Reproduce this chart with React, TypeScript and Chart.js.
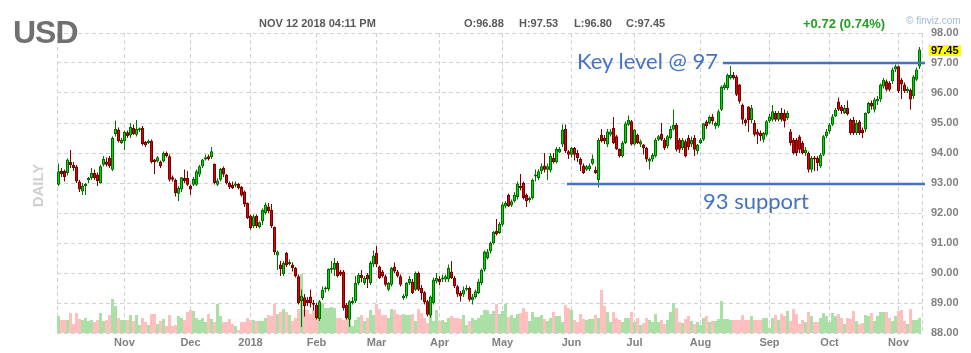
import { useEffect, useRef } from 'react';
import { Chart, registerables } from 'chart.js';

Chart.register(...registerables);

// ---- Daily candles (DXY), Oct 2017 – Nov 12 2018 ----
const OPEN = [
  92.94, 93.40, 93.40, 93.33, 93.70, 93.60, 93.55, 93.05, 92.72, 92.90, 93.09, 93.17,
  93.33, 93.28, 93.00, 93.61, 93.72, 93.83, 93.44, 94.63, 94.78, 94.33, 94.39, 94.69,
  94.58, 94.83, 94.61, 94.76, 94.83, 94.37, 94.33, 94.41, 93.78, 93.72, 93.72, 93.72,
  94.00, 93.89, 93.19, 93.11, 92.64, 92.78, 93.17, 93.17, 92.90, 92.94, 92.94, 93.28,
  93.56, 93.78, 93.89, 93.87, 93.64, 92.94, 93.11, 93.50, 93.28, 93.00, 92.94, 92.91,
  92.97, 92.87, 92.72, 92.33, 91.91, 91.56, 91.91, 91.53, 91.72, 92.00, 92.22, 92.11,
  91.53, 90.58, 90.28, 89.97, 90.67, 90.30, 90.28, 90.17, 89.89, 89.07, 89.19, 89.10,
  89.22, 89.00, 88.94, 88.47, 89.17, 89.45, 89.47, 90.11, 90.11, 90.33, 90.05, 90.05,
  88.94, 88.44, 89.00, 89.06, 89.67, 89.94, 89.67, 89.94, 89.67, 90.28, 90.67, 90.22,
  90.05, 89.89, 89.44, 89.61, 90.22, 90.05, 89.89, 89.17, 89.22, 89.67, 89.72, 89.44,
  90.00, 89.50, 89.36, 89.06, 88.58, 89.00, 89.72, 89.80, 89.78, 89.78, 89.78, 90.05,
  89.83, 89.56, 89.33, 89.28, 89.44, 89.50, 89.09, 89.20, 89.33, 89.67, 90.11, 90.50,
  90.72, 91.00, 91.41, 91.33, 91.61, 92.22, 92.61, 92.25, 92.39, 92.53, 92.91, 93.00,
  92.61, 92.43, 92.50, 93.22, 93.17, 93.39, 93.58, 93.44, 93.42, 93.83, 93.69, 94.02,
  94.28, 94.80, 94.06, 93.94, 94.17, 94.00, 93.80, 93.58, 93.44, 93.47, 93.64, 93.44,
  93.09, 94.61, 94.50, 94.28, 94.61, 94.83, 94.56, 94.13, 93.89, 94.33, 94.94, 95.06,
  94.28, 94.61, 94.28, 94.28, 94.17, 93.72, 93.78, 93.89, 94.44, 94.64, 94.44, 94.22,
  94.50, 94.78, 94.94, 94.44, 94.17, 94.39, 94.50, 94.28, 94.50, 94.06, 94.33, 94.44,
  95.05, 95.00, 95.22, 94.89, 94.91, 95.44, 96.17, 96.17, 96.50, 96.61, 96.55, 96.28,
  95.61, 95.11, 95.55, 95.10, 95.00, 94.72, 94.67, 94.44, 94.61, 95.06, 95.11, 95.33,
  95.11, 95.33, 95.33, 95.17, 94.72, 94.44, 94.44, 94.55, 94.33, 94.00, 94.00, 93.44,
  93.83, 93.83, 93.56, 93.94, 94.56, 94.72, 94.94, 95.22, 95.72, 95.55, 95.33, 95.50,
  95.10, 95.10, 94.67, 95.05, 94.78, 94.78, 95.33, 95.67, 95.44, 95.72, 95.78, 96.22,
  96.39, 96.33, 96.39, 96.78, 96.89, 96.44, 96.28, 96.06, 96.10, 95.89, 96.44, 96.88,
];

const HIGH = [
  93.65, 93.50, 93.45, 93.82, 94.10, 93.70, 93.60, 93.10, 93.00, 93.00, 93.20, 93.50,
  93.45, 93.35, 93.60, 93.90, 93.85, 93.90, 94.55, 95.08, 94.85, 94.50, 94.75, 94.75,
  95.00, 94.95, 95.10, 94.85, 94.90, 94.40, 94.45, 94.45, 93.80, 93.90, 93.75, 94.05,
  94.05, 93.95, 93.25, 93.15, 92.90, 93.20, 93.45, 93.40, 92.95, 93.20, 93.45, 93.60,
  93.80, 93.95, 93.95, 94.20, 93.65, 93.15, 93.50, 93.55, 93.30, 93.05, 93.05, 93.05,
  93.00, 92.90, 92.75, 92.35, 91.95, 91.95, 91.95, 91.72, 92.15, 92.35, 92.33, 92.30,
  91.55, 90.75, 90.40, 90.40, 90.70, 90.45, 90.35, 90.20, 89.95, 89.45, 89.30, 89.20,
  89.45, 89.10, 89.00, 89.10, 89.55, 89.55, 90.15, 90.40, 90.50, 90.40, 90.10, 90.10,
  89.00, 89.10, 89.20, 89.90, 90.00, 90.10, 89.90, 90.00, 90.40, 90.75, 90.90, 90.25,
  90.10, 89.95, 89.70, 90.20, 90.35, 90.10, 89.95, 89.30, 89.70, 89.90, 89.80, 90.05,
  90.05, 89.60, 89.40, 89.10, 89.25, 89.85, 90.00, 89.90, 89.95, 89.95, 90.28, 90.40,
  89.90, 89.60, 89.40, 89.55, 89.60, 89.55, 89.30, 89.45, 89.80, 90.15, 90.75, 90.80,
  91.05, 91.40, 91.80, 91.70, 92.35, 92.40, 92.65, 92.45, 92.70, 93.05, 93.30, 93.05,
  92.65, 92.55, 93.15, 93.45, 93.45, 93.65, 94.00, 93.65, 94.00, 94.00, 94.20, 94.20,
  94.95, 94.95, 94.10, 94.20, 94.20, 94.10, 93.85, 93.65, 93.60, 93.65, 93.95, 93.55,
  94.50, 94.80, 94.60, 94.80, 94.80, 95.20, 94.60, 94.15, 94.40, 95.05, 95.25, 95.10,
  94.80, 94.65, 94.45, 94.30, 94.20, 93.85, 94.00, 94.50, 94.60, 95.00, 94.50, 94.60,
  94.90, 95.45, 95.00, 94.50, 94.50, 94.45, 94.60, 94.55, 94.60, 94.30, 94.50, 95.00,
  95.10, 95.25, 95.30, 95.05, 95.45, 96.25, 96.35, 96.65, 96.90, 96.70, 96.60, 96.30,
  95.65, 95.15, 95.56, 95.60, 95.10, 94.80, 94.75, 94.70, 95.10, 95.30, 95.60, 95.40,
  95.40, 95.50, 95.45, 95.40, 94.80, 94.50, 94.50, 94.60, 94.40, 94.20, 94.05, 93.90,
  93.90, 93.90, 94.00, 94.60, 94.80, 95.00, 95.30, 95.50, 95.85, 95.60, 95.60, 95.75,
  95.15, 95.20, 95.10, 95.10, 94.85, 95.35, 95.70, 95.75, 95.85, 95.90, 96.32, 96.50,
  96.45, 96.40, 96.85, 96.95, 96.92, 96.50, 96.35, 96.20, 96.15, 96.60, 96.85, 97.53,
];

const LOW = [
  92.90, 93.20, 93.05, 93.25, 93.50, 93.40, 93.00, 92.70, 92.60, 92.60, 93.00, 93.10,
  93.10, 92.90, 92.98, 93.55, 93.55, 93.50, 93.40, 94.55, 94.35, 94.30, 94.10, 94.50,
  94.50, 94.60, 94.55, 94.70, 94.25, 94.20, 94.30, 93.65, 93.30, 93.68, 93.50, 93.68,
  93.85, 93.05, 93.05, 92.55, 92.40, 92.70, 93.00, 92.90, 92.60, 92.90, 92.90, 93.20,
  93.50, 93.75, 93.75, 93.80, 92.95, 92.90, 93.05, 93.20, 92.95, 92.80, 92.80, 92.85,
  92.78, 92.55, 92.20, 91.80, 91.45, 91.50, 91.50, 91.48, 91.60, 91.95, 92.00, 91.50,
  90.60, 90.10, 89.90, 89.90, 90.20, 90.25, 90.05, 89.85, 88.95, 88.20, 88.55, 88.90,
  88.85, 88.75, 88.45, 88.40, 89.10, 89.35, 89.40, 90.00, 89.90, 89.85, 89.90, 88.75,
  88.45, 88.20, 88.95, 89.00, 89.60, 89.70, 89.60, 89.50, 89.60, 90.20, 90.20, 89.80,
  89.85, 89.55, 89.40, 89.55, 90.00, 89.85, 89.55, 89.10, 89.15, 89.60, 89.30, 89.40,
  89.40, 89.10, 88.95, 88.55, 88.50, 88.95, 89.65, 89.60, 89.70, 89.70, 89.70, 89.80,
  89.50, 89.20, 89.05, 89.20, 89.40, 89.05, 88.95, 89.15, 89.30, 89.60, 90.05, 90.45,
  90.65, 90.95, 91.25, 91.30, 91.55, 92.15, 92.20, 92.20, 92.35, 92.45, 92.75, 92.45,
  92.20, 92.35, 92.45, 93.05, 93.10, 93.30, 93.35, 93.10, 93.35, 93.65, 93.65, 94.00,
  94.20, 94.00, 93.80, 93.85, 93.75, 93.70, 93.40, 93.30, 93.40, 93.40, 93.60, 93.30,
  92.85, 94.35, 94.30, 94.20, 94.55, 94.30, 94.10, 93.85, 93.85, 94.30, 94.90, 94.25,
  94.25, 94.30, 94.20, 93.95, 93.70, 93.45, 93.70, 93.85, 94.40, 94.40, 94.10, 94.15,
  94.45, 94.75, 94.05, 94.00, 94.10, 93.85, 94.10, 94.20, 93.90, 93.95, 94.30, 94.40,
  94.80, 94.95, 94.95, 94.80, 94.85, 95.40, 96.10, 96.10, 96.45, 96.45, 95.90, 95.65,
  94.95, 94.90, 94.70, 95.00, 94.55, 94.30, 94.40, 94.35, 94.55, 95.00, 95.05, 95.05,
  95.05, 95.05, 94.85, 95.10, 94.25, 93.95, 93.90, 94.00, 93.95, 93.90, 93.35, 93.35,
  93.40, 93.40, 93.50, 93.90, 94.50, 94.65, 94.90, 95.20, 95.40, 95.30, 95.30, 95.25,
  94.60, 94.60, 94.60, 94.60, 94.50, 94.70, 95.30, 95.45, 95.35, 95.60, 95.70, 96.15,
  96.05, 96.05, 96.30, 96.70, 96.00, 95.80, 96.00, 96.00, 95.44, 95.80, 96.40, 96.80,
];

const CLOSE = [
  93.39, 93.30, 93.20, 93.78, 93.60, 93.50, 93.05, 92.78, 92.90, 92.92, 93.17, 93.33,
  93.17, 93.06, 93.56, 93.80, 93.61, 93.56, 94.50, 94.80, 94.39, 94.44, 94.70, 94.56,
  94.87, 94.63, 94.80, 94.79, 94.30, 94.26, 94.41, 93.70, 93.70, 93.86, 93.56, 94.00,
  93.89, 93.11, 93.11, 92.67, 92.83, 93.19, 93.06, 92.94, 92.78, 93.13, 93.39, 93.56,
  93.78, 93.86, 93.80, 94.06, 93.00, 93.08, 93.47, 93.28, 93.00, 92.86, 92.83, 92.98,
  92.83, 92.58, 92.28, 91.83, 91.50, 91.89, 91.56, 91.69, 92.11, 92.28, 92.06, 91.56,
  90.69, 90.72, 90.13, 90.33, 90.26, 90.37, 90.17, 89.89, 89.00, 89.24, 88.89, 89.00,
  89.00, 88.94, 88.50, 89.06, 89.44, 89.48, 90.13, 90.17, 90.33, 89.89, 89.94, 88.83,
  88.50, 89.06, 89.06, 89.67, 89.94, 89.83, 89.83, 89.78, 90.33, 90.58, 90.28, 89.83,
  89.89, 89.61, 89.67, 90.17, 90.05, 89.89, 89.61, 89.24, 89.67, 89.80, 89.33, 90.00,
  89.44, 89.33, 89.02, 88.61, 89.22, 89.78, 89.83, 89.69, 89.83, 89.89, 90.17, 89.83,
  89.56, 89.28, 89.22, 89.44, 89.50, 89.11, 89.22, 89.39, 89.72, 90.11, 90.72, 90.72,
  91.00, 91.37, 91.30, 91.63, 92.28, 92.33, 92.22, 92.39, 92.61, 92.98, 92.83, 92.50,
  92.39, 92.50, 93.11, 93.28, 93.39, 93.56, 93.44, 93.56, 93.91, 93.69, 94.13, 94.13,
  94.78, 94.06, 93.94, 94.17, 93.94, 93.83, 93.61, 93.33, 93.56, 93.58, 93.80, 93.33,
  94.44, 94.39, 94.39, 94.72, 94.72, 94.33, 94.13, 93.89, 94.33, 94.98, 95.11, 94.28,
  94.78, 94.33, 94.39, 94.17, 93.78, 93.80, 93.94, 94.44, 94.56, 94.44, 94.17, 94.56,
  94.80, 94.94, 94.11, 94.11, 94.44, 93.89, 94.20, 94.44, 94.11, 94.28, 94.44, 94.98,
  94.89, 95.20, 95.06, 95.00, 95.39, 96.22, 96.28, 96.61, 96.61, 96.50, 95.94, 95.72,
  95.11, 95.00, 95.10, 95.50, 94.61, 94.61, 94.56, 94.67, 95.06, 95.22, 95.39, 95.11,
  95.33, 95.11, 95.06, 95.33, 94.33, 94.00, 94.00, 94.11, 94.00, 94.11, 93.44, 93.83,
  93.78, 93.67, 93.94, 94.56, 94.72, 94.94, 95.22, 95.44, 95.44, 95.40, 95.50, 95.30,
  94.67, 94.67, 95.00, 94.67, 94.67, 95.33, 95.67, 95.55, 95.78, 95.80, 96.28, 96.44,
  96.11, 96.11, 96.78, 96.89, 96.06, 96.28, 96.06, 96.13, 95.78, 96.55, 96.78, 97.45,
];

// relative daily volume (same units as the hidden volume axis)
const VOLUME = [
  17, 13, 13, 13, 20, 9, 20, 14, 13, 15, 12, 13, 11, 13, 20, 12, 13, 18, 34, 27,
  15, 13, 13, 13, 18, 12, 18, 8, 15, 11, 8, 19, 19, 9, 12, 14, 7, 18, 7, 8,
  17, 15, 13, 21, 23, 22, 15, 13, 15, 11, 19, 14, 11, 29, 17, 11, 11, 14, 9, 7,
  3, 11, 11, 15, 13, 13, 12, 12, 12, 15, 18, 17, 29, 19, 21, 24, 21, 18, 12, 15,
  24, 59, 24, 23, 19, 23, 23, 24,
  30, 25, 25, 26, 25, 15, 15, 13, 25, 23, 7, 13, 16, 18, 12, 15, 23, 18, 29, 24,
  18, 18, 15, 24, 23, 19, 18, 19, 18, 18, 19, 12, 24, 20, 15, 10, 18, 12, 23, 12,
  13, 11, 15, 17, 15, 15, 14, 18, 8, 12, 15, 13, 15, 18, 23, 23, 19, 22, 29, 19,
  22, 29, 16, 18, 15, 19, 20, 25, 21, 12, 21, 16, 16, 18, 14, 12, 15, 21, 17, 17,
  11, 28, 25, 23, 13, 11, 19, 14, 13, 14, 14, 18, 15, 43, 27, 21, 11, 21, 15, 13,
  11, 15, 15, 21, 11, 15, 8,
  10, 15, 13, 11, 19, 11, 13, 9, 13, 21, 30, 25, 11, 10, 14, 17, 12, 9, 11, 8,
  15, 17, 11, 12, 12, 14, 32, 14, 14, 13, 13, 13, 13, 18, 13, 13, 17, 13, 13, 13,
  15, 15, 5, 15, 18, 13, 19, 17, 22, 12, 24, 19, 9, 13, 11, 21, 17, 11, 11, 15,
  20, 17, 11, 20, 17, 19, 15, 9, 15, 14, 22, 12, 9, 10, 18, 17, 20, 12, 17, 21,
  21, 21, 15, 12, 17, 22, 23, 12, 9, 24, 13, 13, 15,
];

// x axis: bar index of the first session of each month
const MONTH_INDEX = [22, 44, 64, 86, 106, 127, 148, 171, 192, 214, 237, 257, 280];
const MONTH_LABELS = ['Nov', 'Dec', '2018', 'Feb', 'Mar', 'Apr', 'May', 'Jun', 'Jul', 'Aug', 'Sep', 'Oct', 'Nov'];

// price axis
const PRICE_MIN = 88;
const PRICE_MAX = 98;
const PRICE_STEP = 1;

// hand-drawn level lines (price, start bar, end bar)
const LEVEL_VALUES = [97.0, 92.97];
const LEVEL_FROM = [221.5, 169.5];
const LEVEL_TO = [288.83, 288.83];

const X_MIN = -0.5;
const X_MAX = -0.5 + 865 / 3;

const UP_FILL = '#00dc00';
const UP_EDGE = '#006a00';
const DOWN_FILL = '#e00000';
const DOWN_EDGE = '#760000';
const UP_WICK = '#007800';
const DOWN_WICK = '#800000';
const UP_VOL = '#aadfa6';
const DOWN_VOL = '#ffbfbf';
const GRID = '#d2d2d2';
const AXIS_TEXT = '#808080';
const LINE_BLUE = '#4472c4';

const overlayPlugin = {
  id: 'overlay',
  afterDatasetsDraw(chart: any) {
    const { ctx, scales } = chart;
    const x = scales.x;
    const y = scales.y;
    ctx.save();
    ctx.strokeStyle = LINE_BLUE;
    ctx.lineWidth = 2.5;
    for (let k = 0; k < LEVEL_VALUES.length; k++) {
      const py = y.getPixelForValue(LEVEL_VALUES[k]);
      ctx.beginPath();
      ctx.moveTo(x.getPixelForValue(LEVEL_FROM[k]), py);
      ctx.lineTo(x.getPixelForValue(LEVEL_TO[k]), py);
      ctx.stroke();
    }
    ctx.restore();
  },
  afterDraw(chart: any) {
    const { ctx, scales, chartArea } = chart;
    const last = CLOSE[CLOSE.length - 1];
    const py = scales.y.getPixelForValue(last) + 1;
    ctx.save();
    ctx.fillStyle = '#ffff00';
    ctx.fillRect(chartArea.right + 7, py - 5.5, 32, 11);
    ctx.fillStyle = '#000000';
    ctx.font = 'bold 11px "Liberation Sans", Arial, sans-serif';
    ctx.textBaseline = 'middle';
    ctx.textAlign = 'left';
    ctx.fillText(last.toFixed(2), chartArea.right + 9, py);
    ctx.restore();
  },
};

const LIB = '"Liberation Sans", Arial, sans-serif';

function Label(props: any) {
  const { x, baseline, size, k = 0.8465, style, children } = props;
  return (
    <div
      style={{
        position: 'absolute',
        left: x,
        top: baseline - k * size,
        fontSize: size,
        lineHeight: 1,
        whiteSpace: 'nowrap',
        fontFamily: LIB,
        ...style,
      }}
    >
      {children}
    </div>
  );
}

export default function App() {
  const ref = useRef<HTMLCanvasElement | null>(null);

  useEffect(() => {
    const up = OPEN.map((o, i) => CLOSE[i] >= o);
    const idx = OPEN.map((_, i) => i);

    const chart = new Chart(ref.current as HTMLCanvasElement, {
      type: 'bar',
      data: {
        datasets: [
          {
            label: 'body',
            data: idx.map((i) => ({ x: i, y: [OPEN[i], CLOSE[i]] })),
            backgroundColor: up.map((u) => (u ? UP_FILL : DOWN_FILL)),
            borderColor: up.map((u) => (u ? UP_EDGE : DOWN_EDGE)),
            borderWidth: 1,
            borderSkipped: false,
            barThickness: 3,
            minBarLength: 2,
            grouped: false,
            inflateAmount: 0,
            yAxisID: 'y',
          },
          {
            label: 'wick',
            data: idx.map((i) => ({ x: i, y: [LOW[i], HIGH[i]] })),
            backgroundColor: up.map((u) => (u ? UP_WICK : DOWN_WICK)),
            borderWidth: 0,
            barThickness: 1,
            grouped: false,
            inflateAmount: 0,
            yAxisID: 'y',
          },
          {
            label: 'volume',
            data: idx.map((i) => ({ x: i, y: VOLUME[i] })),
            backgroundColor: up.map((u) => (u ? UP_VOL : DOWN_VOL)),
            borderWidth: 0,
            barThickness: 3,
            grouped: false,
            inflateAmount: 0,
            yAxisID: 'yv',
          },
        ],
      },
      options: {
        responsive: false,
        animation: false,
        devicePixelRatio: 1,
        events: [],
        layout: { padding: { left: 57, top: 33, right: 0, bottom: 0 } },
        plugins: { legend: { display: false }, tooltip: { enabled: false } },
        scales: {
          x: {
            type: 'linear',
            min: X_MIN,
            max: X_MAX,
            offset: false,
            afterBuildTicks: (scale: any) => {
              scale.ticks = [X_MIN, ...MONTH_INDEX, X_MAX].map((v) => ({ value: v }));
            },
            afterFit: (scale: any) => {
              scale.height = 20;
            },
            grid: { color: GRID, drawTicks: false, offset: false, lineWidth: 1 },
            border: { display: false, dash: [4, 3] },
            ticks: {
              autoSkip: false,
              maxRotation: 0,
              padding: 3,
              color: AXIS_TEXT,
              font: { family: LIB, size: 11, weight: 'bold' },
              callback: (value: any) => {
                const k = MONTH_INDEX.indexOf(value);
                return k >= 0 ? MONTH_LABELS[k] : '';
              },
            },
          },
          y: {
            type: 'linear',
            position: 'right',
            min: PRICE_MIN,
            max: PRICE_MAX,
            afterFit: (scale: any) => {
              scale.width = 49;
            },
            grid: { color: GRID, drawTicks: false, lineWidth: 1 },
            border: { display: false, dash: [4, 3] },
            ticks: {
              stepSize: PRICE_STEP,
              padding: 9,
              color: AXIS_TEXT,
              font: { family: LIB, size: 11, weight: 'bold' },
              callback: (value: any) => Number(value).toFixed(2),
            },
          },
          yv: {
            type: 'linear',
            display: false,
            min: 0,
            max: 300,
          },
        },
      } as any,
      plugins: [overlayPlugin],
    } as any);

    return () => chart.destroy();
  }, []);

  const hdr = { fontWeight: 'bold', color: '#595959' };

  return (
    <div
      style={{
        position: 'fixed',
        left: 0,
        top: 0,
        width: 971,
        height: 353,
        background: '#ffffff',
        overflow: 'hidden',
      }}
    >
      <canvas
        ref={ref}
        width={971}
        height={353}
        style={{ position: 'absolute', left: 0, top: 0, width: 971, height: 353 }}
      />
      <Label x={13} baseline={43} size={32} style={{ fontWeight: 'bold', color: '#707070', letterSpacing: -1 }}>
        USD
      </Label>
      <Label x={259} baseline={27.3} size={11} style={hdr}>NOV 12 2018 04:11 PM</Label>
      <Label x={464} baseline={27.3} size={11} style={hdr}>O:96.88</Label>
      <Label x={519} baseline={27.3} size={11} style={hdr}>H:97.53</Label>
      <Label x={574} baseline={27.3} size={11} style={hdr}>L:96.80</Label>
      <Label x={626} baseline={27.3} size={11} style={hdr}>C:97.45</Label>
      <Label x={803} baseline={28} size={13} style={{ fontWeight: 'bold', color: '#22a022' }}>
        +0.72 (0.74%)
      </Label>
      <Label x={906} baseline={24.3} size={10} style={{ color: '#9fbbdb' }}>
        © finviz.com
      </Label>
      <div
        style={{
          position: 'absolute',
          left: 7,
          top: 178,
          width: 60,
          height: 15,
          lineHeight: '15px',
          fontSize: 15,
          fontWeight: 'bold',
          fontFamily: LIB,
          color: '#d0d0d0',
          textAlign: 'center',
          transform: 'rotate(-90deg)',
          transformOrigin: '50% 50%',
        }}
      >
        DAILY
      </div>
      <Label x={577} baseline={70} size={22} k={0.887} style={{ fontFamily: 'Lato, sans-serif', color: LINE_BLUE }}>
        Key level @ 97
      </Label>
      <Label x={703} baseline={210} size={22} k={0.887} style={{ fontFamily: 'Lato, sans-serif', color: LINE_BLUE }}>
        93 support
      </Label>
    </div>
  );
}
